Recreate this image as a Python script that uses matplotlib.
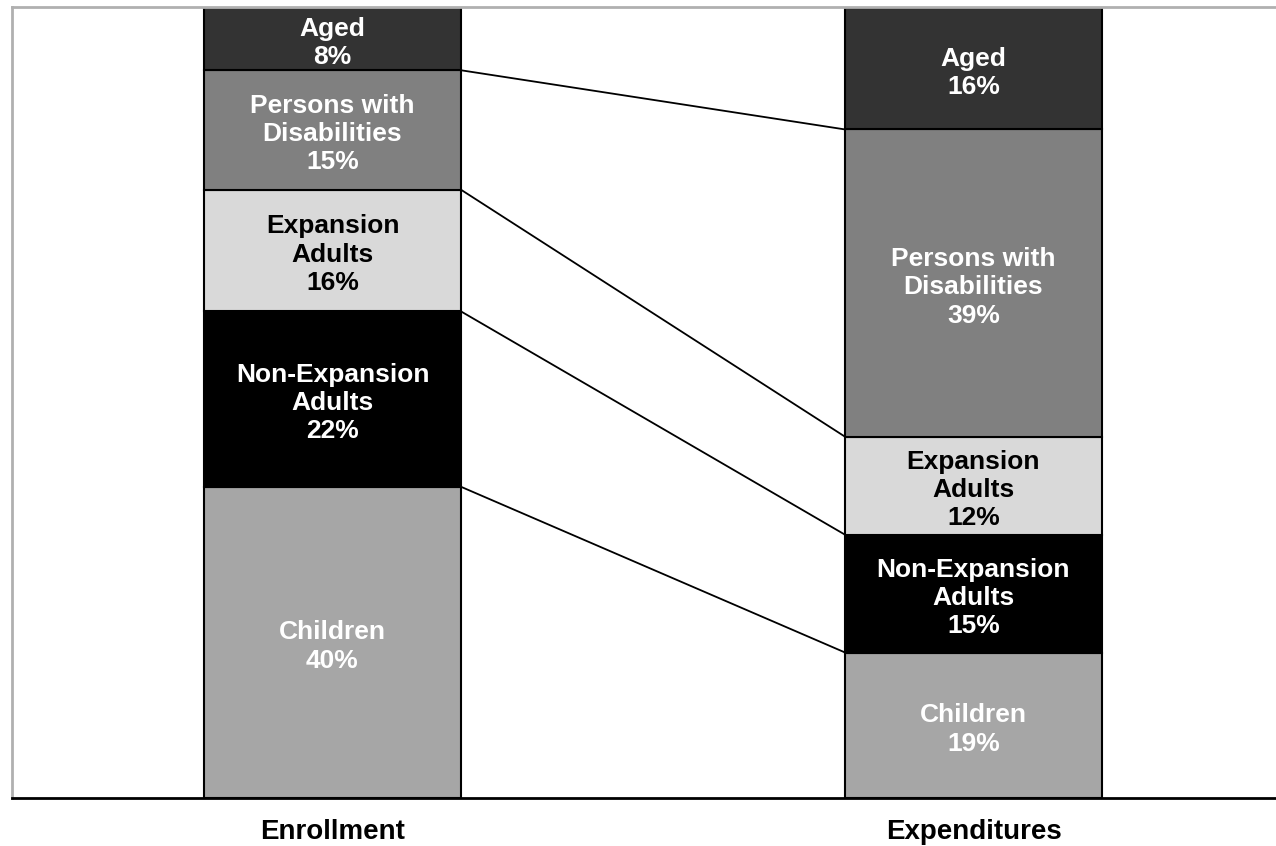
import matplotlib.pyplot as plt
import numpy as np

groups = ["Enrollment", "Expenditures"]
segments = ["Children", "Non-Expansion\nAdults", "Expansion\nAdults", "Persons with\nDisabilities", "Aged"]
# bar heights, labels as printed on the chart
enrollment = [39.4, 22.2, 15.4, 15.1, 8.0]
expenditures = [18.4, 14.9, 12.4, 38.9, 15.4]
enroll_labels = ["40%", "22%", "16%", "15%", "8%"]
expend_labels = ["19%", "15%", "12%", "39%", "16%"]

fills = ["#a6a6a6", "#000000", "#d9d9d9", "#808080", "#333333"]
text_colors = ["white", "white", "black", "white", "white"]

plt.rcParams['font.family'] = ['Liberation Sans', 'DejaVu Sans']

fig = plt.figure(figsize=(12.76, 8.46), dpi=100)
ax = fig.add_axes([12/1276, 48/846, 1282/1276, 791/846])

x = np.arange(len(groups))
width = 0.4
data = [enrollment, expenditures]
labels = [enroll_labels, expend_labels]

for i in range(len(groups)):
    bottom = 0
    for j, val in enumerate(data[i]):
        ax.bar(x[i], val, width, bottom=bottom, color=fills[j], edgecolor="black", linewidth=1.5, zorder=2)
        ax.annotate(segments[j] + "\n" + labels[i][j], (x[i], bottom + val/2), xytext=(0, -3),
                    textcoords="offset points", ha="center", va="center",
                    color=text_colors[j], fontsize=19, fontweight="bold", linespacing=1.22, zorder=3)
        bottom += val

# connector lines between segment boundaries
c1 = np.cumsum(enrollment)[:-1]
c2 = np.cumsum(expenditures)[:-1]
for a, b in zip(c1, c2):
    ax.plot([x[0] + width/2, x[1] - width/2], [a, b], color="black", linewidth=1.3, zorder=1)

ax.set_xlim(-0.5, 1.5)
ax.set_ylim(0, sum(enrollment))
ax.set_xticks(x)
ax.set_xticklabels(groups, fontsize=20, fontweight="bold")
ax.tick_params(axis="x", length=0, pad=15)
ax.set_yticks([])
ax.spines["right"].set_visible(False)
ax.spines["left"].set_color("#b0b0b0")
ax.spines["top"].set_color("#b0b0b0")
ax.spines["left"].set_linewidth(2)
ax.spines["top"].set_linewidth(2)
ax.spines["bottom"].set_linewidth(2)

plt.savefig("out.png", dpi=100)
